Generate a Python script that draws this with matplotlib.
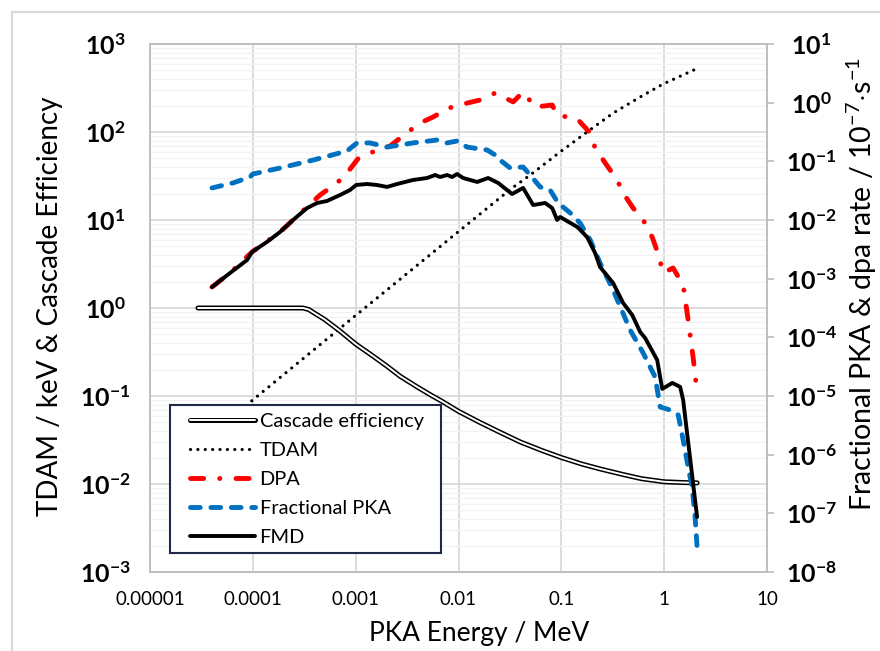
import math
import matplotlib
matplotlib.use('Agg')
import matplotlib.pyplot as plt
from matplotlib.ticker import FixedLocator, FuncFormatter, NullFormatter, LogLocator
from matplotlib.legend_handler import HandlerTuple
from matplotlib.lines import Line2D
from matplotlib.patches import Rectangle

plt.rcParams['font.family'] = ['Lato', 'DejaVu Sans']
plt.rcParams['mathtext.fontset'] = 'custom'
plt.rcParams['mathtext.rm'] = 'Lato'
plt.rcParams['mathtext.bf'] = 'Lato:bold'
plt.rcParams['mathtext.it'] = 'Lato:italic'

# ---------------- data (PKA energy in MeV) ----------------
casc_E = [2.93e-5, 3.08e-4, 3.5e-4, 4.0e-4, 5.0e-4, 7.0e-4, 1.0e-3, 1.5e-3, 2.0e-3,
          2.7e-3, 4.0e-3, 5.5e-3, 6.8e-3, 0.01, 0.0162, 0.025, 0.04, 0.065, 0.1,
          0.16, 0.24, 0.4, 0.6, 1.0, 1.5, 2.09]
casc_val = [1.0, 1.0, 0.96, 0.87, 0.74, 0.55, 0.39, 0.28, 0.22,
            0.168, 0.126, 0.101, 0.088, 0.067, 0.050, 0.039, 0.030, 0.024, 0.020,
            0.0168, 0.0148, 0.0128, 0.0115, 0.0106, 0.0104, 0.0103]

tdam_E = [4.01e-5, 1.0e-4, 8.83e-4, 0.0162, 0.0332, 0.0497, 0.0973, 0.178,
          0.319, 0.585, 0.977, 2.14]
tdam_val = [0.0372, 0.0902, 0.731, 11.7, 23.1, 32.4, 59.3, 100, 164, 250, 351, 533]

dpa_E = [4.01e-5, 6.0e-5, 9.82e-5, 1.84e-4, 3.37e-4, 4.51e-4, 6.59e-4, 8.24e-4,
         1.05e-3, 1.61e-3, 2.16e-3, 3.03e-3, 4.23e-3, 5.66e-3, 8.09e-3, 0.0111,
         0.0162, 0.0227, 0.0340, 0.0425, 0.0556, 0.0815, 0.091, 0.143, 0.191,
         0.213, 0.267, 0.349, 0.399, 0.499, 0.653, 0.764, 0.875, 0.977, 1.22,
         1.53, 1.71, 1.91, 2.09]
dpa_val = [7.21e-4, 1.25e-3, 2.85e-3, 6.25e-3, 0.0167, 0.0267, 0.0428, 0.0632,
           0.110, 0.156, 0.182, 0.292, 0.450, 0.570, 0.811, 0.948,
           1.11, 1.46, 1.03, 1.52, 0.843, 0.912, 0.617, 0.527, 0.304,
           0.169, 0.0938, 0.0481, 0.0288, 0.016, 0.00889, 0.00513, 0.00264, 0.00125, 0.00152,
           7.8e-4, 1.98e-4, 4.62e-5, 1.17e-5]

pka_E = [4.01e-5, 6.41e-5, 9.4e-5, 1.0e-4, 1.84e-4, 3.85e-4, 8.24e-4, 1.03e-3,
         1.38e-3, 2.02e-3, 3.61e-3, 6.19e-3, 7.74e-3, 9.68e-3, 0.0121, 0.0190,
         0.0243, 0.0254, 0.0318, 0.0425, 0.0497, 0.0622, 0.0778, 0.0931, 0.122,
         0.152, 0.191, 0.238, 0.319, 0.467, 0.625, 0.817, 0.914, 1.14, 1.37,
         1.53, 1.71, 1.87, 2.00, 2.09]
pka_val = [0.0352, 0.0428, 0.0541, 0.0608, 0.0769, 0.105, 0.150, 0.206,
           0.206, 0.175, 0.206, 0.231, 0.206, 0.222, 0.175, 0.156,
           0.119, 0.105, 0.0769, 0.080, 0.0585, 0.0366, 0.0324, 0.0195, 0.0132,
           0.00889, 0.00456, 0.00185, 6.41e-4, 1.33e-4, 5.41e-5, 2.11e-5, 6.5e-6, 5.78e-6, 4.75e-6,
           1.78e-6, 6.17e-7, 2.81e-7, 8.67e-8, 2.67e-8]

fmd_E = [4.01e-5, 6.0e-5, 8.79e-5, 9.82e-5, 1.37e-4, 1.84e-4, 2.46e-4, 3.37e-4,
         4.22e-4, 5.27e-4, 7.05e-4, 8.83e-4, 1.01e-3, 1.29e-3, 1.61e-3, 2.02e-3,
         2.53e-3, 3.61e-3, 4.95e-3, 5.92e-3, 6.62e-3, 7.74e-3, 8.67e-3, 9.68e-3,
         0.0111, 0.0152, 0.0194, 0.0243, 0.0332, 0.0425, 0.0532, 0.0695, 0.0815,
         0.091, 0.0973, 0.143, 0.178, 0.213, 0.238, 0.319, 0.399, 0.489, 0.585,
         0.653, 0.855, 0.957, 1.20, 1.43, 1.53, 1.67, 1.83, 1.96, 2.09]
fmd_val = [7.21e-4, 1.25e-3, 2.08e-3, 2.85e-3, 4.22e-3, 6.25e-3, 0.0100, 0.0160,
           0.0195, 0.0211, 0.0267, 0.0325, 0.0395, 0.0411, 0.0395, 0.0366,
           0.0411, 0.0481, 0.052, 0.0585, 0.0541, 0.0585, 0.0541, 0.0608,
           0.052, 0.0445, 0.052, 0.0428, 0.0277, 0.0352, 0.018, 0.0195, 0.016,
           0.01, 0.01125, 0.0076, 0.00513, 0.00274, 0.00158, 8.43e-4, 3.85e-4, 2.40e-4, 1.23e-4,
           9.75e-5, 4.11e-5, 1.32e-5, 1.67e-5, 1.43e-5, 8.55e-6, 2.34e-6, 6.17e-7, 2.22e-7, 8.67e-8]

x_ticks = [1e-5, 1e-4, 1e-3, 1e-2, 1e-1, 1, 10]
x_ticklabels = ['0.00001', '0.0001', '0.001', '0.01', '0.1', '1', '10']
left_exps = [-3, -2, -1, 0, 1, 2, 3]
right_exps = [-8, -7, -6, -5, -4, -3, -2, -1, 0, 1]

legend_labels = ['Cascade efficiency', 'TDAM', 'DPA', 'Fractional PKA', 'FMD']

# ---------------- figure ----------------
W, H = 880, 651
fig = plt.figure(figsize=(W / 100, H / 100), dpi=100)
fig.patch.set_facecolor('white')

fig.add_artist(Line2D([12 / W, 12 / W, 1.0], [0.0, 1 - 12 / H, 1 - 12 / H],
                      transform=fig.transFigure, color='#d9d9d9', lw=1.5))

ax = fig.add_axes([150 / W, 1 - 572 / H, (767 - 150) / W, (572 - 44) / H])
ax2 = ax.twinx()

ax.set_xscale('log')
ax.set_yscale('log')
ax2.set_yscale('log')
ax.set_xlim(1e-5, 10)
ax.set_ylim(1e-3, 1e3)
ax2.set_ylim(1e-8, 10)


def pow_fmt(v, p):
    return r'$\mathbf{10^{%d}}$' % round(math.log10(v))


grid_c = '#d9d9d9'
ax.set_axisbelow(True)
ax.xaxis.set_major_locator(FixedLocator(x_ticks))
ax.xaxis.set_minor_locator(FixedLocator([]))
ax.set_xticklabels(x_ticklabels)
ax.yaxis.set_major_locator(FixedLocator([10.0 ** e for e in left_exps]))
ax.yaxis.set_minor_locator(LogLocator(base=10, subs=range(2, 10), numticks=50))
ax.yaxis.set_minor_formatter(NullFormatter())
ax.yaxis.set_major_formatter(FuncFormatter(pow_fmt))
ax.grid(True, which='major', axis='both', color=grid_c, lw=1.3)
ax.grid(True, which='minor', axis='y', color='#f2f2f2', lw=0.9)

ax2.yaxis.set_major_locator(FixedLocator([10.0 ** e for e in right_exps]))
ax2.yaxis.set_minor_locator(FixedLocator([]))
ax2.yaxis.set_major_formatter(FuncFormatter(pow_fmt))

for a in (ax, ax2):
    for s in a.spines.values():
        s.set_color('#bfbfbf')
        s.set_linewidth(1.4)

ax.tick_params(axis='x', which='both', length=0, pad=14, labelsize=13.5, colors='black')
ax.tick_params(axis='y', which='both', length=0, pad=32, labelsize=18)
ax2.tick_params(axis='y', which='major', length=5, width=1.2, color='#bfbfbf', pad=27, labelsize=18)
for lab in ax.get_yticklabels():
    lab.set_horizontalalignment('center')
for lab in ax2.get_yticklabels():
    lab.set_horizontalalignment('center')

# ---------------- series ----------------
c_out, = ax.plot(casc_E, casc_val, color='black', lw=3.6, solid_capstyle='round', zorder=3)
c_in, = ax.plot(casc_E, casc_val, color='white', lw=1.4, solid_capstyle='round', zorder=4)
t_ln, = ax.plot(tdam_E, tdam_val, color='black', lw=2.3, linestyle=(0, (0.01, 2.3)),
                dash_capstyle='round', zorder=3)

d_ln, = ax2.plot(dpa_E, dpa_val, color='#ff0000', lw=3.5, linestyle=(0, (2.7, 3.3, 0.05, 3.3)),
                 dash_capstyle='round', zorder=3)
p_ln, = ax2.plot(pka_E, pka_val, color='#0070c0', lw=3.5, linestyle=(0, (2.0, 2.2)),
                 dash_capstyle='round', zorder=4)
f_ln, = ax2.plot(fmd_E, fmd_val, color='black', lw=2.8, solid_capstyle='round', zorder=5)

# legend frame drawn as a box, legend entries placed inside it
box = Rectangle((170 / W, 1 - 553 / H), 271 / W, 148 / H, transform=fig.transFigure,
                facecolor='white', edgecolor='#1f2a4a', lw=1.5, zorder=9, clip_on=False)
ax2.add_patch(box)
leg = ax2.legend([(c_out, c_in), t_ln, d_ln, p_ln, f_ln], legend_labels,
                 handler_map={tuple: HandlerTuple(ndivide=1, pad=0)},
                 loc='upper left', bbox_to_anchor=(182 / W, 1 - 405 / H),
                 bbox_transform=fig.transFigure, borderaxespad=0,
                 fontsize=14.4, handlelength=3.25, handletextpad=0.25,
                 labelspacing=0.6, borderpad=0.38, frameon=False)
leg.set_zorder(10)

# ---------------- titles ----------------
fig.text(479 / W, 1 - 634 / H, 'PKA Energy / MeV', ha='center', va='center', fontsize=19)
fig.text(50 / W, 1 - 306 / H, 'TDAM / keV & Cascade Efficiency', ha='center', va='center',
         rotation=90, fontsize=20)
fig.text(862 / W, 1 - 284 / H, r'Fractional PKA & dpa rate / 10$^{-7}$$\cdot$s$^{-1}$',
         ha='center', va='center', rotation=90, fontsize=20.5)

fig.savefig('out.png', dpi=100, facecolor='white')
